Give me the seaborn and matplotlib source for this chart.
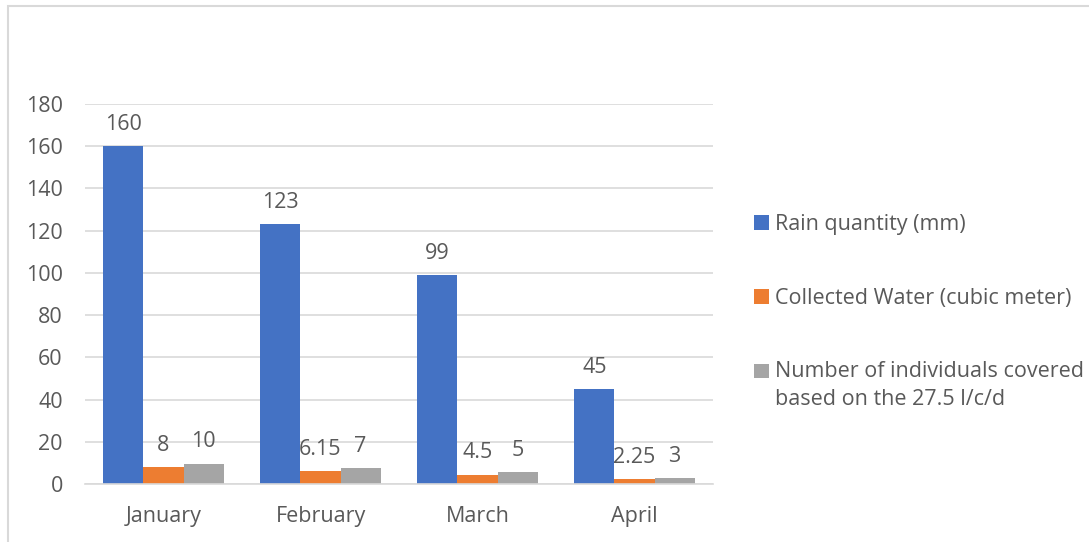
import matplotlib
matplotlib.use("Agg")
import matplotlib.pyplot as plt
import matplotlib.patches as mpatches
import seaborn as sns
import pandas as pd

months = ["January", "February", "March", "April"]
series = ["Rain quantity (mm)",
          "Collected Water (cubic meter)",
          "Number of individuals covered\nbased on the 27.5 l/c/d"]
rain = [160, 123, 99, 45]
collected = [8, 6.15, 4.5, 2.25]
individuals = [9.7, 7.45, 5.45, 2.73]
yticks = [0, 20, 40, 60, 80, 100, 120, 140, 160, 180]
colors = ["#4472C4", "#ED7D31", "#A5A5A5"]

rows = []
for s, vals in zip(series, [rain, collected, individuals]):
    for m, v in zip(months, vals):
        rows.append({"Month": m, "Series": s, "Value": v})
df = pd.DataFrame(rows)

sns.set_theme(style="white")
plt.rcParams["font.family"] = ["Open Sans", "DejaVu Sans"]
text_color = "#595959"
grid_color = "#D9D9D9"
fs = 15.5

fig = plt.figure(figsize=(10.89, 5.42), dpi=100)
ax = fig.add_axes([85 / 1089, 1 - 484 / 542, (713 - 85) / 1089, (484 - 104) / 542])

sns.barplot(data=df, x="Month", y="Value", hue="Series", hue_order=series,
            order=months, palette=colors, saturation=1, width=0.765,
            linewidth=0, ax=ax)

ax.set_ylim(0, 180)
ax.set_xlim(-0.5, 3.5)
ax.set_yticks(yticks)
ax.set_yticklabels([str(t) for t in yticks])
ax.set_xlabel("")
ax.set_ylabel("")
for sp in ["top", "right", "left"]:
    ax.spines[sp].set_visible(False)
ax.spines["bottom"].set_color(grid_color)
ax.spines["bottom"].set_linewidth(1.2)
ax.yaxis.grid(True, color=grid_color, linewidth=1.2)
ax.set_axisbelow(True)
ax.tick_params(axis="both", length=0, labelsize=fs, colors=text_color)
ax.tick_params(axis="y", pad=16)
ax.tick_params(axis="x", pad=16)

fmts = ["{:g}", "{:g}", "{:.0f}"]
for cont, vals, f in zip(ax.containers, [rain, collected, individuals], fmts):
    ax.bar_label(cont, labels=[f.format(v) for v in vals], padding=8,
                 fontsize=fs, color=text_color)

if ax.get_legend() is not None:
    ax.get_legend().remove()
handles = [mpatches.Patch(facecolor=c, edgecolor="none") for c in colors]
leg = fig.legend(handles, series, loc="upper left",
                 bbox_to_anchor=(754 / 1089, 1 - 214 / 542),
                 frameon=False, fontsize=fs, handlelength=0.68,
                 handleheight=0.68, handletextpad=0.3, labelspacing=2.45,
                 borderpad=0, borderaxespad=0)
for t in leg.get_texts():
    t.set_color(text_color)
ls = 1.4
leg.get_texts()[2].set_linespacing(ls)
# put the third handle level with the first line of its two-line label
h3 = leg.legend_handles[2]
h3.set_y(h3.get_y() + 0.5 * ls * fs)

border = mpatches.Rectangle((8 / 1089, -0.2), 1.2, 1.2 - 6 / 542,
                            transform=fig.transFigure, fill=False,
                            edgecolor=grid_color, linewidth=1.5)
fig.add_artist(border)

fig.savefig("out.png", dpi=100)
